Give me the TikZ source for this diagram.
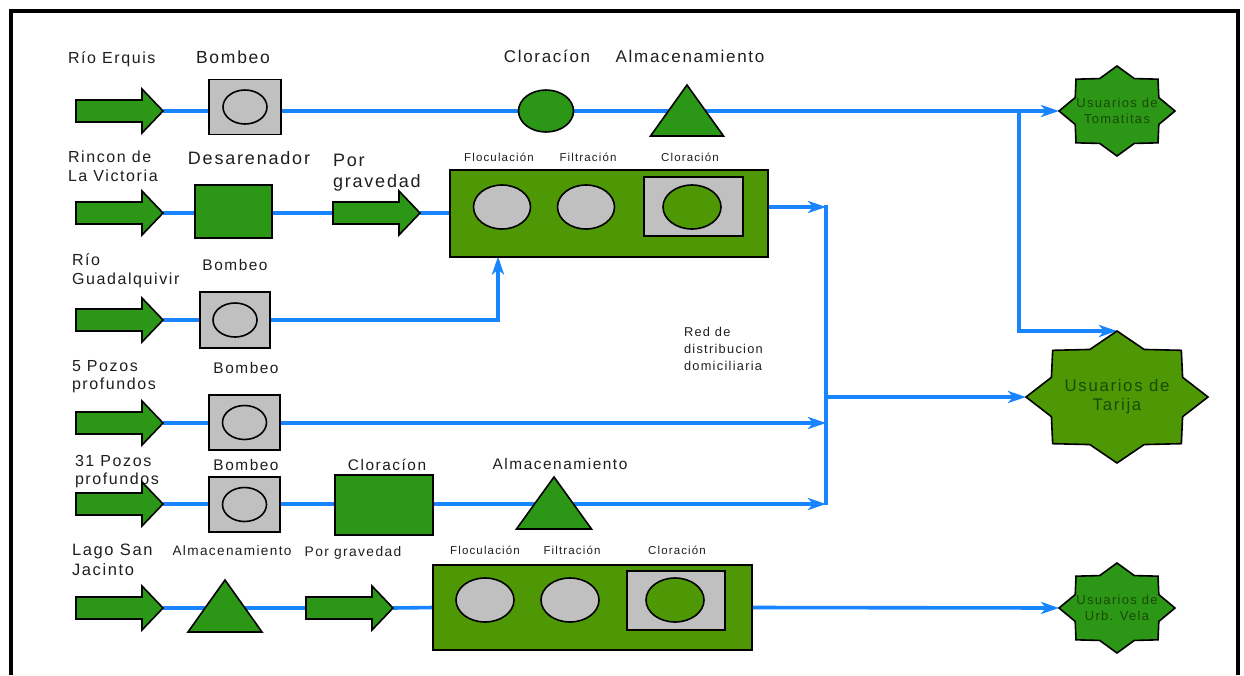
\documentclass[tikz,border=0pt]{standalone}
\usepackage{fontspec}
\setmainfont{Liberation Sans}[LetterSpace=10]
\usetikzlibrary{shapes.geometric,arrows.meta,calc,backgrounds}

\definecolor{flowgreen}{RGB}{44,150,22}
\definecolor{plantgreen}{RGB}{78,152,6}
\definecolor{pumpgray}{RGB}{192,192,192}
\definecolor{pipeblue}{RGB}{24,132,255}
\definecolor{inkgray}{RGB}{30,30,30}
\definecolor{stargreen}{RGB}{25,75,5}

\newcommand\fs[2]{\fontsize{#1}{#2}\selectfont}

% green block arrow ending at a tip; (name-tail) is its back end
\newcommand\blockarrow[2]{%
  \coordinate (#1) at (#2);
  \filldraw[arrowbody] ($(#1)+(-87,-11)$) -- ($(#1)+(-21,-11)$) -- ($(#1)+(-21,-22)$)
    -- (#1) -- ($(#1)+(-21,22)$) -- ($(#1)+(-21,11)$) -- ($(#1)+(-87,11)$) -- cycle;
  \coordinate (#1-tail) at ($(#1)+(-87,0)$);}

% storage tank: name, apex, half base, height
\newcommand\tank[4]{%
  \coordinate (#1) at (#2);
  \filldraw[tankbody] (#1) -- ++(#3,#4) -- ++(-2*#3,0) -- cycle;}

% eight-pointed star round a centre: centre, rx, ry, fill
\newcommand\octagram[4]{%
  \filldraw[fill=#4, draw=black, line width=1.6pt, line join=miter, shift={(#1)}]
    plot[samples at={0,...,15}]
      ({#2*cos(22.5*\x)*starfac(\x)},{#3*sin(22.5*\x)*starfac(\x)}) -- cycle;}

\begin{document}
\begin{tikzpicture}[x=1pt, y=-1pt,
  declare function={starfac(\k)=isodd(\k) ? 0.78 : 1;},
  every node/.style={inner sep=0pt, outer sep=0pt, text=inkgray},
  pipe/.style={draw=pipeblue, line width=3.6pt},
  flow/.style={pipe, -{Stealth[length=18pt,width=12pt,inset=5pt]}},
  arrowbody/.style={fill=flowgreen, draw=black, line width=1.6pt, line join=miter},
  tankbody/.style={fill=flowgreen, draw=black, line width=1.6pt, line join=miter},
  pumpbox/.style={rectangle, draw=black, line width=1.6pt, fill=pumpgray,
    minimum width=71pt, minimum height=55pt},
  pumpring/.style={ellipse, draw=black, line width=1.6pt, fill=pumpgray,
    minimum width=44pt, minimum height=34pt},
  greenbox/.style={rectangle, draw=black, line width=1.8pt, fill=flowgreen},
  plantbox/.style={rectangle, draw=black, line width=2pt, fill=plantgreen},
  unit/.style={ellipse, draw=black, line width=1.6pt, fill=pumpgray,
    minimum width=57pt, minimum height=44pt},
  chlorbox/.style={rectangle, draw=black, line width=1.8pt, fill=pumpgray,
    minimum width=99pt, minimum height=59pt},
  chlorring/.style={ellipse, draw=black, line width=1.6pt, fill=plantgreen,
    minimum width=58pt, minimum height=44pt},
  src/.style={anchor=north west, align=left, font=\fs{16}{18.5}},
  tag/.style={anchor=north, font=\fs{15.4}{18}},
  small/.style={anchor=north, font=\fs{11.5}{13}},
  startext/.style={align=center, text=stargreen},
]
\useasboundingbox (0,0) rectangle (1244,675);

% frame
\draw[line width=4.5pt, line join=miter] (11,675) -- (11,11) -- (1238,11) -- (1238,675);

% ---------- row 1: Rio Erquis ----------
\node[src] (l1) at (68,52) {Río Erquis};
\blockarrow{a1}{163,111}
\node[tag, font=\fs{17.5}{18}] (lb1) at (233,51) {Bombeo};
\node[pumpbox, minimum width=72pt] (b1) at (245,107) {};
\node[pumpring] (r1) at (b1) {};
\node[tag, font=\fs{17}{18}] (lc1) at (547,50) {Cloracíon};
\node[ellipse, draw=black, line width=1.6pt, fill=flowgreen,
  minimum width=55pt, minimum height=42pt] (c1) at (546,111) {};
\node[tag, font=\fs{17}{18}] (ls1) at (690,50) {Almacenamiento};
\tank{t1}{687,85}{36.5}{51}

% ---------- row 2: Rincon de La Victoria ----------
\node[src] (l2) at (68,151) {Rincon de\\La Victoria};
\blockarrow{a2}{163,213}
\node[tag, font=\fs{18}{18}] (ld2) at (249,151) {Desarenador};
\node[greenbox, minimum width=77pt, minimum height=53pt] (d2) at (233.5,211.5) {};
\node[anchor=north west, align=left, font=\fs{18}{21}] (lg2) at (333,154) {Por\\gravedad};
\blockarrow{g2}{420,213}

% treatment plant 1
\node[plantbox, minimum width=318pt, minimum height=87pt] (p1) at (609,213) {};
\node[small] (lf1) at (499,153) {Floculación};
\node[small] (lt1) at (588,153) {Filtración};
\node[small] (lk1) at (690,153) {Cloración};
\node[unit] (f1) at (502,207) {};
\node[unit] (u1) at (586,207) {};
\node[chlorbox] (k1) at (693.5,206.5) {};
\node[chlorring] (kr1) at (692,207) {};

% ---------- row 3: Rio Guadalquivir ----------
\node[src] (l3) at (72,254) {Río\\Guadalquivir};
\blockarrow{a3}{163,320}
\node[tag] (lb3) at (235,259) {Bombeo};
\node[pumpbox, minimum width=70pt, minimum height=56pt] (b3) at (235,320) {};
\node[pumpring] (r3) at (b3) {};

% ---------- row 4: 5 Pozos profundos ----------
\node[src] (l4) at (72,360) {5 Pozos\\profundos};
\blockarrow{a4}{163,423}
\node[tag] (lb4) at (246,362) {Bombeo};
\node[pumpbox] (b4) at (244.5,422.5) {};
\node[pumpring] (r4) at (b4) {};

% ---------- row 5: 31 Pozos profundos ----------
\node[src] (l5) at (75,455) {31 Pozos\\profundos};
\blockarrow{a5}{163,504}
\node[tag] (lb5) at (246,459) {Bombeo};
\node[pumpbox] (b5) at (244.5,504.5) {};
\node[pumpring] (r5) at (b5) {};
\node[tag] (lc5) at (387,459) {Cloracíon};
\node[greenbox, minimum width=98pt, minimum height=60pt] (c5) at (384,505) {};
\node[tag] (ls5) at (560,458) {Almacenamiento};
\tank{t5}{554,477}{37.5}{52}

% distribution network label
\node[anchor=north west, align=left, font=\fs{12.8}{17}] (net) at (684,327)
  {Red de\\distribucion\\domiciliaria};

% ---------- row 6: Lago San Jacinto ----------
\node[src, font=\fs{16.5}{19.5}] (l6) at (72,544) {Lago San\\Jacinto};
\blockarrow{a6}{163,608}
\node[tag, font=\fs{13.6}{15}] (ls6) at (232,546) {Almacenamiento};
\tank{t6}{225,580}{37}{52}
\node[tag, font=\fs{13.8}{15}] (lg6) at (353,546) {Por gravedad};
\blockarrow{g6}{393,608}

% treatment plant 2
\node[plantbox, minimum width=319pt, minimum height=85pt] (p2) at (592.5,607.5) {};
\node[small] (lf2) at (485,546) {Floculación};
\node[small] (lt2) at (572,546) {Filtración};
\node[small] (lk2) at (677,546) {Cloración};
\node[unit, minimum width=58pt] (f2) at (485,600) {};
\node[unit, minimum width=58pt] (u2) at (570,600) {};
\node[chlorbox, minimum width=98pt] (k2) at (676,600.5) {};
\node[chlorring] (kr2) at (675,600) {};

% ---------- consumers ----------
\octagram{1117,111}{58}{45}{flowgreen}
\node[startext, font=\fs{13}{16}, minimum width=116pt, minimum height=90pt] (tom) at (1117,111)
  {Usuarios de\\Tomatitas};
\octagram{1117,397}{91}{66}{plantgreen}
\node[startext, font=\fs{16.8}{19}, minimum width=182pt, minimum height=132pt] (tar) at (1117,397)
  {Usuarios de\\Tarija};
\octagram{1117,608}{58}{45}{flowgreen}
\node[startext, font=\fs{13}{16}, minimum width=116pt, minimum height=90pt] (vela) at (1117,608)
  {Usuarios de\\Urb. Vela};

% ---------- pipes ----------
\coordinate (bustop) at (826,207);
\coordinate (busbot) at (826,503);
\coordinate (busout) at (826,397);
\coordinate (split) at (1019,111);
\coordinate (g3) at (498,320);

\begin{pgfonlayer}{background}
  \draw[flow] (a1) -- (tom.west);
  \draw[flow] (split) |- (tar.north);
  \draw[pipe] (a2) -- (g2-tail);
  \draw[pipe] (g2) -- (p1.west);
  \draw[flow] ([yshift=6pt]p1.east) -- (bustop);
  \draw[flow] (a3) -- (g3) -- (g3 |- p1.south);
  \draw[flow] (a4) -- (a4 -| bustop);
  \draw[flow] (a5) -- (a5 -| bustop);
  \draw[pipe, line cap=rect] (bustop) -- (busbot);
  \draw[flow] (busout) -- (tar.west);
  \draw[pipe] (a6) -- (g6-tail);
  \draw[pipe] (g6) -- (p2.west);
  \draw[flow] (p2.east) -- (vela.west);
\end{pgfonlayer}
\end{tikzpicture}
\end{document}
